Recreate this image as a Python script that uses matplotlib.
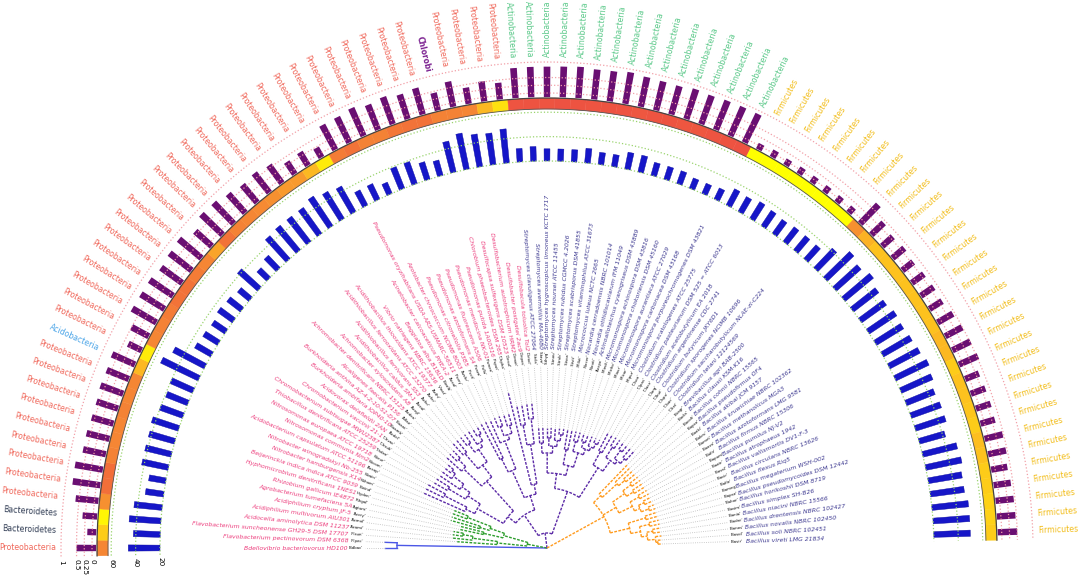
import numpy as np
import matplotlib
matplotlib.use("Agg")
import matplotlib.pyplot as plt
from matplotlib.colors import LinearSegmentedColormap

plt.rcParams['font.family'] = ['DejaVu Sans']

# ---------------- data ----------------
species = [
    "Bdellovibrio bacteriovorus HD100", "Flavobacterium pectinovorum DSM 6368",
    "Flavobacterium suncheonense GH29-5 DSM 17707", "Acidocella aminolytica DSM 11237",
    "Acidiphilium multivorum AIU301", "Acidiphilium cryptum JF-5",
    "Agrobacterium tumefaciens 5A", "Rhizobium gallicum IE4872",
    "Hyphomicrobium denitrificans 1NES1", "Beijerinckia indica indica ATCC 9039",
    "Nitrobacter hamburgensis X14", "Nitrobacter winogradskyi Nb-255",
    "Acidobacterium capsulatum ATCC 51196", "Nitrosomonas communis Nm2",
    "Nitrosomonas europaea ATCC 19718", "Thiobacillus denitrificans ATCC 25259",
    "Chromobacterium subtsugae MWU2387", "Chromobacterium vaccinii 21-1",
    "Acidovorax delafieldii 2AN", "Burkholderia ambifaria IOP40-10",
    "Burkholderia anthina AZ-4-2-10-S1-D7", "Alcaligenes faecalis P156",
    "Achromobacter denitrificans NBRC 15125", "Achromobacter xylosoxidans A8",
    "Acidithiobacillus caldus SM-1", "Acidithiobacillus ferrivorans SS3",
    "Acidithiobacillus ferrooxidans ATCC 23270", "Acidithiobacillus thiooxidans ATCC 19377",
    "Vibrio natriegens NBRC 15636", "Beggiatoa alba B18LD",
    "Acinetobacter calcoaceticus PHEA-2", "Pseudomonas oryzihabitans USDA-ARS-USMARC-56511",
    "Azotobacter chroococcum NCIMB 8003", "Pseudomonas citronellolis P3B5",
    "Pseudomonas azotoformans S4", "Pseudomonas fluorescens A506",
    "Pseudomonas mendocina NK-01", "Pseudomonas putida 1A00316",
    "Chlorobium phaeobacteroides DSM 265", "Desulfocapsa sulfexigens DSM 10523",
    "Desulfobacterium autotrophicum HRM2", "Desulfobacter postgatei 2ac9",
    "Desulfobacula toluolica Tol2",
    "Streptomyces clavuligerus ATCC 27064", "Streptomyces avermitilis MA-4680",
    "Streptomyces hygroscopicus limoneus KCTC 1717", "Streptomyces noursei ATCC 11455",
    "Streptomyces rubidus CGMCC 4.2026", "Streptomyces scabrisporus DSM 41855",
    "Streptomyces vitaminophilus ATCC 31673", "Micrococcus luteus NCTC 2665",
    "Nocardia cerradoensis NBRC 101014", "Nocardia otitidiscaviarum IFM 11049",
    "Actinoalloteichus cyanogriseus DSM 43889", "Micromonospora echinospora DSM 43816",
    "Micromonospora chokoriensis DSM 45160", "Micromonospora aurantiaca ATCC 27029",
    "Micromonospora carbonacea DSM 43168", "Micromonospora purpureochromogenes DSM 43821",
    "Clostridium scatologenes ATCC 25775", "Clostridium pasteurianum DSM 525 = ATCC 6013",
    "Clostridium acetobutylicum EA 2018", "Clostridium argentinense CDC 2741",
    "Clostridium butyricum JKY6D1", "Clostridium sporogenes NCIMB 10696",
    "Clostridium saccharobutylicum NLAE-zl-C224", "Clostridium tetani 12124569",
    "Brevibacillus agri BAB-2500", "Bacillus clausii KSM-K16",
    "Bacillus cohnii NBRC 15565", "Bacillus pseudofirmus OF4",
    "Bacillus akibai JCM 9157", "Bacillus kruwichiae NBRC 102362",
    "Bacillus methanolicus MGA3", "Bacillus azotoformans LMG 9581",
    "Bacillus firmus NBRC 15306", "Bacillus pumilus NJ-V2",
    "Bacillus atrophaeus 1942", "Bacillus vallismortis DV1-F-3",
    "Bacillus circulans NBRC 13626", "Bacillus flexus Riq5",
    "Bacillus megaterium WSH-002", "Bacillus pseudomycoides DSM 12442",
    "Bacillus horikoshii DSM 8719", "Bacillus simplex SH-B26",
    "Bacillus niacini NBRC 15566", "Bacillus drentensis NBRC 102427",
    "Bacillus novalis NBRC 102450", "Bacillus soli NBRC 102451",
    "Bacillus vireti LMG 21834",
]

phyla = (["Proteobacteria", "Bacteroidetes", "Bacteroidetes"] + ["Proteobacteria"] * 9
         + ["Acidobacteria"] + ["Proteobacteria"] * 25 + ["Chlorobi"]
         + ["Proteobacteria"] * 4 + ["Actinobacteria"] * 16 + ["Firmicutes"] * 31)

# inner blue bars (axis 20-60)
blue_vals = [46, 42, 46, 43, 35, 34, 42, 42, 42, 43,
             40, 39, 40, 54, 49, 35, 34, 33, 35, 34,
             32, 42, 31, 34, 45, 46, 46, 46, 49, 46,
             44, 34, 34, 30, 39, 39, 35, 33, 46, 50,
             47, 46, 48, 31, 32, 30, 30, 30, 32, 30,
             30, 34, 34, 31, 31, 31, 29, 29, 30, 35,
             34, 36, 35, 34, 35, 35, 35, 42, 50, 47,
             50, 46, 45, 47, 46, 47, 48, 50, 48, 45,
             46, 46, 42, 49, 50, 48, 48, 50, 50, 50]

# heat ring (0 = yellow ... 1 = red)
heat_vals = [0.60, 0.25, 0.05, 0.55, 0.72, 0.72, 0.62, 0.60, 0.60, 0.62,
             0.60, 0.60, 0.35, 0.10, 0.60, 0.62, 0.65, 0.70, 0.70, 0.65,
             0.60, 0.45, 0.70, 0.62, 0.60, 0.58, 0.55, 0.50, 0.50, 0.35,
             0.10, 0.65, 0.70, 0.62, 0.62, 0.68, 0.70, 0.70, 0.62, 0.62,
             0.60, 0.35, 0.15, 0.92, 0.93, 0.92, 0.94, 0.93, 0.92, 0.93,
             0.92, 0.90, 0.92, 0.93, 0.91, 0.90, 0.92, 0.93, 0.94, 0.00,
             0.00, 0.00, 0.00, 0.00, 0.00, 0.00, 0.00, 0.55, 0.38, 0.30,
             0.30, 0.30, 0.30, 0.30, 0.30, 0.30, 0.35, 0.35, 0.25, 0.30,
             0.30, 0.28, 0.25, 0.32, 0.30, 0.25, 0.25, 0.22, 0.22, 0.25]

# outer purple bars (axis 0-1)
purple_vals = [0.50, 0.16, 0.34, 0.61, 0.77, 0.78, 0.62, 0.63, 0.60, 0.60,
               0.65, 0.64, 0.68, 0.35, 0.50, 0.77, 0.77, 0.78, 0.71, 0.77,
               0.82, 0.59, 0.82, 0.80, 0.69, 0.61, 0.66, 0.58, 0.34, 0.37,
               0.22, 0.77, 0.78, 0.85, 0.74, 0.80, 0.70, 0.75, 0.45, 0.70,
               0.40, 0.52, 0.41, 0.84, 0.85, 0.85, 0.86, 0.88, 0.84, 0.85,
               0.90, 0.85, 0.83, 0.82, 0.88, 0.85, 0.88, 0.89, 0.89, 0.07,
               0.11, 0.08, 0.10, 0.10, 0.10, 0.10, 0.10, 0.71, 0.42, 0.33,
               0.37, 0.31, 0.35, 0.37, 0.35, 0.44, 0.49, 0.52, 0.54, 0.35,
               0.37, 0.37, 0.35, 0.47, 0.46, 0.40, 0.43, 0.46, 0.47, 0.50]

blue_ticks = [20, 40, 60]
purple_ticks = [0, 0.25, 0.5, 1]
purple_tick_labels = ["0", "0.25", "0.5", "1"]

# phylogeny (leaf = index into species), branch lengths
clade_blue = "(0:12,1:12):150"
clade_green = ("((2:40,(3:20,(4:10,5:10):10):25):30,((6:25,7:25):20,"
               "((8:30,9:30):10,(10:15,11:15):25):15):25):20")
sub_a = "((12:45,(13:20,14:20):25):10,((15:15,16:15):20,(17:25,(18:12,(19:8,20:8):4):13):10):15)"
sub_b = "((21:20,(22:10,23:10):10):25,((24:15,25:15):20,((26:10,27:10):10,(28:15,(29:8,30:8):7):5):15):15)"
sub_c = "((31:40,32:40):15,(33:25,((34:10,35:10):10,(36:12,37:12):8):5):30)"
sub_d = "(38:95,((39:20,40:20):20,(41:15,42:15):25):40)"
sub_act = ("(((43:15,44:15):10,((45:10,46:10):8,(47:12,(48:6,49:6):6):6):7):20,"
           "((50:20,51:20):15,((52:10,53:10):10,((54:8,55:8):6,(56:10,(57:5,58:5):5):4):6):15):10)")
sub_clo = "((59:20,60:20):15,((61:10,62:10):12,((63:8,64:8):10,(65:12,66:12):6):4):13)"
clade_purple = (f"((({sub_a}:30,{sub_b}:40):10,({sub_c}:30,{sub_d}:10):15):25,"
                f"({sub_act}:15,{sub_clo}:35):45):15")
sub_o1 = "(67:40,(68:20,(69:12,70:12):8):20):10"
sub_o2 = "(((71:10,72:10):10,(73:12,74:12):8):15,((75:10,76:10):10,((77:8,78:8):6,(79:6,80:6):8):6):15):15"
sub_o3 = "((81:12,82:12):18,((83:10,84:10):10,((85:8,86:8):6,(87:6,(88:4,89:4):2):8):6):10):20"
clade_orange = f"({sub_o1},{sub_o2},{sub_o3}):65"
newick = f"({clade_blue},{clade_green},{clade_purple},{clade_orange});"

clade_styles = [("#4B57E6", "-"), ("#2E9E2E", "--"), ("#5B2AA6", "--"), ("#FF9B1E", "--")]

phylum_colors = {"Proteobacteria": "#F0695C", "Bacteroidetes": "#2E3A52",
                 "Acidobacteria": "#4DA6E8", "Chlorobi": "#7A1F8F",
                 "Actinobacteria": "#5CC98A", "Firmicutes": "#F2BD1A"}

# ---------------- geometry ----------------
n = len(species)
angles_deg = 180.0 - 2.0 * np.arange(n)
th = np.radians(angles_deg)
step = np.radians(2.0)

TIP_R = 182
CODE_R = 184
NAME_R = 199
B0 = 387          # blue value 20
BS = 1.22         # px per blue unit
HEAT_IN, HEAT_OUT = 439, 450
P0, PS = 455, 31  # purple 0 radius and px per unit
PHY_R = 491

def blue_r(v):
    return B0 + (v - 20) * BS

def purple_r(v):
    return P0 + PS * v

W, H = 1084, 576
fig = plt.figure(figsize=(W / 100, H / 100), dpi=100)
R = 490
cx, cy = 547, 28
side_px = 2 * R
# polar half-disk sits in the middle half of a square axes box
ax = fig.add_axes([(cx - R) / W, (cy - R / 2) / H, side_px / W, side_px / H], projection="polar")
ax.set_thetamin(0)
ax.set_thetamax(180)
ax.set_rlim(0, R)
ax.set_axis_off()

# ---------------- tree ----------------
def parse(s):
    pos = [0]
    def node():
        if s[pos[0]] == "(":
            pos[0] += 1
            kids = [node()]
            while s[pos[0]] == ",":
                pos[0] += 1
                kids.append(node())
            pos[0] += 1
            leaf = None
        else:
            st = pos[0]
            while s[pos[0]] not in ":,);":
                pos[0] += 1
            leaf = int(s[st:pos[0]])
            kids = []
        bl = 0.0
        if pos[0] < len(s) and s[pos[0]] == ":":
            pos[0] += 1
            st = pos[0]
            while s[pos[0]] not in ",);":
                pos[0] += 1
            bl = float(s[st:pos[0]])
        return {"kids": kids, "leaf": leaf, "bl": bl}
    return node()

def node_theta(nd):
    if nd["leaf"] is not None:
        return th[nd["leaf"]]
    return 0.5 * (node_theta(nd["kids"][0]) + node_theta(nd["kids"][-1]))

def line_kw(color, ls):
    kw = dict(color=color, lw=1.0, clip_on=False)
    if ls == "--":
        kw.update(ls="--", dashes=(2, 1))
    else:
        kw.update(ls="-")
    return kw

def draw(nd, r0, color, ls):
    r1 = r0 + nd["bl"]
    t = node_theta(nd)
    ax.plot([t, t], [r0, r1], **line_kw(color, ls))
    if nd["leaf"] is None:
        kt = [node_theta(k) for k in nd["kids"]]
        a = np.linspace(min(kt), max(kt), 40)
        ax.plot(a, np.full_like(a, r1), **line_kw(color, ls))
        for k in nd["kids"]:
            draw(k, r1, color, ls)
    else:
        ax.plot([t, t], [r1, TIP_R], color="#BBBBBB", ls=":", lw=0.6, clip_on=False)

root = parse(newick)
for kid, (col, ls) in zip(root["kids"], clade_styles):
    draw(kid, 0.0, col, ls)

# ---------------- leaf codes and names ----------------
def side(adeg):
    if adeg > 90:
        return adeg - 180, "right"
    return adeg, "left"

for i, name in enumerate(species):
    parts = name.split()
    code = "'" + parts[0][:2] + parts[1][:3] + "'"
    rot, ha = side(angles_deg[i])
    ax.text(th[i], CODE_R, code, rotation=rot, rotation_mode="anchor", ha=ha, va="center",
            fontsize=2.8, color="black", clip_on=False)
    ncol = "#EC3B7B" if i < 43 else "#3E3A91"
    ax.text(th[i], NAME_R, name, rotation=rot, rotation_mode="anchor", ha=ha, va="center",
            fontsize=4.4, style="italic", color=ncol, clip_on=False)
    ax.text(th[i], PHY_R, phyla[i], rotation=rot, rotation_mode="anchor", ha=ha, va="center",
            fontsize=5.6, color=phylum_colors[phyla[i]], clip_on=False,
            fontweight="bold" if phyla[i] == "Chlorobi" else "normal")

# ---------------- rings ----------------
arc = np.radians(np.linspace(181, 1, 400))
for v in blue_ticks:
    ax.plot(arc, np.full_like(arc, blue_r(v)), color="#9AD46E", ls=":", lw=0.9, clip_on=False)
for v in purple_ticks:
    ax.plot(arc, np.full_like(arc, purple_r(v)), color="#F2A0A8", ls=":", lw=0.9, clip_on=False)

bv = np.array(blue_vals, dtype=float)
ax.bar(th, blue_r(bv) - B0, width=np.radians(0.85), bottom=B0, color="#1616C8",
       edgecolor="#0C0CA0", linewidth=0.3, clip_on=False)

cmap = LinearSegmentedColormap.from_list("heat", [(0, "#FFFF00"), (0.3, "#FDC21E"), (0.6, "#F58634"),
                                                  (0.75, "#F16A3A"), (1, "#EC4A44")])
hc = cmap(np.array(heat_vals))
ax.bar(th, HEAT_OUT - HEAT_IN, width=step, bottom=HEAT_IN, color=hc, edgecolor=hc,
       linewidth=0.3, clip_on=False)
ax.plot(arc, np.full_like(arc, HEAT_IN), color="#555555", lw=0.6, clip_on=False)
ax.plot(arc, np.full_like(arc, HEAT_OUT), color="#444444", lw=0.9, clip_on=False)

pv = np.array(purple_vals, dtype=float)
ax.bar(th, purple_r(pv) - 451, width=np.radians(0.8), bottom=451, color="#6A0F72",
       edgecolor="none", clip_on=False)

# ---------------- axis labels ----------------
lab_t = np.radians(181.4)
for v in blue_ticks:
    ax.text(lab_t, blue_r(v), str(v), rotation=-90, rotation_mode="anchor", ha="left", va="center",
            fontsize=5.2, color="black", clip_on=False)
for v, s in zip(purple_ticks, purple_tick_labels):
    ax.text(lab_t, purple_r(v), s, rotation=-90, rotation_mode="anchor", ha="left", va="center",
            fontsize=5.2, color="black", clip_on=False)

fig.savefig("out.png", dpi=100)
